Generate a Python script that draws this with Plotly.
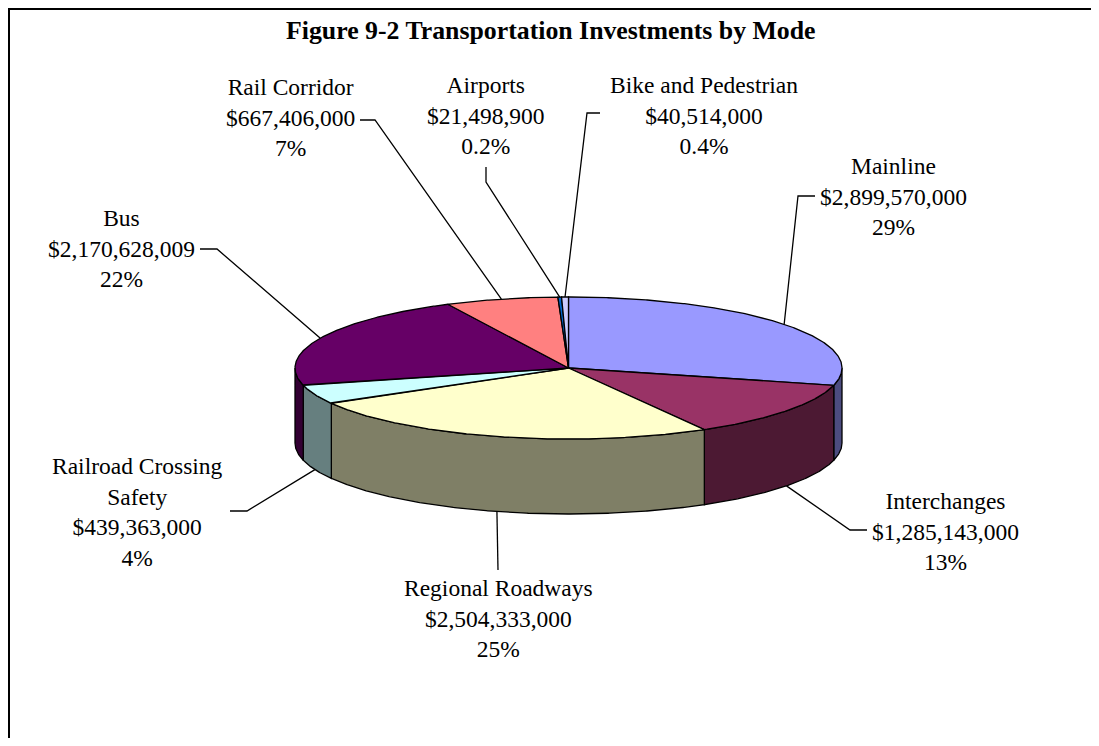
import numpy as np
import plotly.graph_objects as go

# ---------------- data ----------------
categories = ["Mainline", "Interchanges", "Regional Roadways", "Railroad Crossing Safety",
              "Bus", "Rail Corridor", "Airports", "Bike and Pedestrian"]
label_lines = [["Mainline"], ["Interchanges"], ["Regional Roadways"], ["Railroad Crossing", "Safety"],
               ["Bus"], ["Rail Corridor"], ["Airports"], ["Bike and Pedestrian"]]
values = [2899570000, 1285143000, 2504333000, 439363000, 2170628009, 667406000, 21498900, 40514000]
top_colors = ["#9999FF", "#993366", "#FFFFCC", "#CCFFFF", "#660066", "#FF8080", "#0066CC", "#CCCCFF"]

title = "Figure 9-2 Transportation Investments by Mode"

# ---------------- layout geometry (screen pixels) ----------------
W, H = 1099, 746
OFF = 8                    # default page body margin
CX, CY = 568.5, 368.0      # centre of top face
RX, RY = 273.5, 71.0       # ellipse radii
DEPTH = 75.0               # thickness of pie
FONT = "Liberation Serif"

# label centre, leader start, leader elbow
label_center = [(893, 196), (945, 531), (498, 618), (137, 512),
                (121, 248), (290, 117), (486, 115), (704, 115)]
leader_start = [(815, 196), (867, 530), (498, 570), (230, 511),
                (200, 249), (360, 120), (486, 167), (600, 113)]
leader_elbow = [(798, 196), (850, 530), (498, 570), (247, 511),
                (217, 249), (375, 120), (486, 182), (587, 113)]


def half(c):
    c = c.lstrip("#")
    r, g, b = (int(c[i:i + 2], 16) for i in (0, 2, 4))
    return "#%02X%02X%02X" % (r // 2, g // 2, b // 2)


def pt(a_deg, drop=0.0):
    a = np.radians(a_deg)
    return CX + RX * np.sin(a), CY - RY * np.cos(a) + drop


total = float(sum(values))
fracs = [v / total for v in values]
bounds = np.concatenate([[0.0], np.cumsum(fracs) * 360.0])

X1, Y1 = W - OFF, H - OFF

fig = go.Figure()

# frame (only left and top edges fall inside the picture)
fig.add_trace(go.Scatter(x=[9, 9, X1 + 5], y=[Y1 + 5, 9, 9], mode="lines",
                         line=dict(color="black", width=2), hoverinfo="skip", showlegend=False))

# side faces (front half only: 90..270 deg)
for i, col in enumerate(top_colors):
    s0, s1 = max(bounds[i], 90.0), min(bounds[i + 1], 270.0)
    if s1 <= s0:
        continue
    n = max(int((s1 - s0) * 3), 4)
    a = np.linspace(s0, s1, n)
    xt, yt = pt(a)
    xb, yb = pt(a[::-1], DEPTH)
    xs = np.concatenate([xt, xb, xt[:1]])
    ys = np.concatenate([yt, yb, yt[:1]])
    fig.add_trace(go.Scatter(x=xs, y=ys, mode="lines", fill="toself", fillcolor=half(col),
                             line=dict(color="black", width=1.3), hoverinfo="skip", showlegend=False))

# top faces
for i, col in enumerate(top_colors):
    s0, s1 = bounds[i], bounds[i + 1]
    n = max(int((s1 - s0) * 3), 4)
    a = np.linspace(s0, s1, n)
    xa, ya = pt(a)
    xs = np.concatenate([[CX], xa, [CX]])
    ys = np.concatenate([[CY], ya, [CY]])
    fig.add_trace(go.Scatter(x=xs, y=ys, mode="lines", fill="toself", fillcolor=col,
                             line=dict(color="black", width=1.3), name=categories[i],
                             hoverinfo="name", showlegend=False))

# labels and leader lines
for i in range(len(values)):
    mid = (bounds[i] + bounds[i + 1]) / 2.0
    front = 90.0 < mid < 270.0
    ex, ey = pt(mid, DEPTH if front else 0.0)
    sx, sy = leader_start[i]
    bx, by = leader_elbow[i]
    fig.add_trace(go.Scatter(x=[sx, bx, ex], y=[sy, by, ey], mode="lines",
                             line=dict(color="black", width=1.3), hoverinfo="skip", showlegend=False))
    pct = fracs[i] * 100
    pct_txt = f"{pct:.1f}%" if pct < 1 else f"{pct:.0f}%"
    txt = "<br>".join(label_lines[i] + [f"${values[i]:,}", pct_txt])
    lx, ly = label_center[i]
    fig.add_annotation(x=lx, y=ly, text=txt, showarrow=False, xanchor="center", yanchor="middle",
                       align="center", font=dict(family=FONT, size=23.5, color="black"))

fig.add_annotation(x=551, y=30, text=f"<b>{title}</b>", showarrow=False, xanchor="center",
                   yanchor="middle", font=dict(family=FONT, size=25.8, color="black"))

fig.update_layout(
    width=W - 2 * OFF, height=H - 2 * OFF, margin=dict(l=0, r=0, t=0, b=0),
    paper_bgcolor="white", plot_bgcolor="white",
    xaxis=dict(range=[OFF, X1], visible=False, fixedrange=True),
    yaxis=dict(range=[Y1, OFF], visible=False, fixedrange=True),
)

fig.write_html("out.html")
